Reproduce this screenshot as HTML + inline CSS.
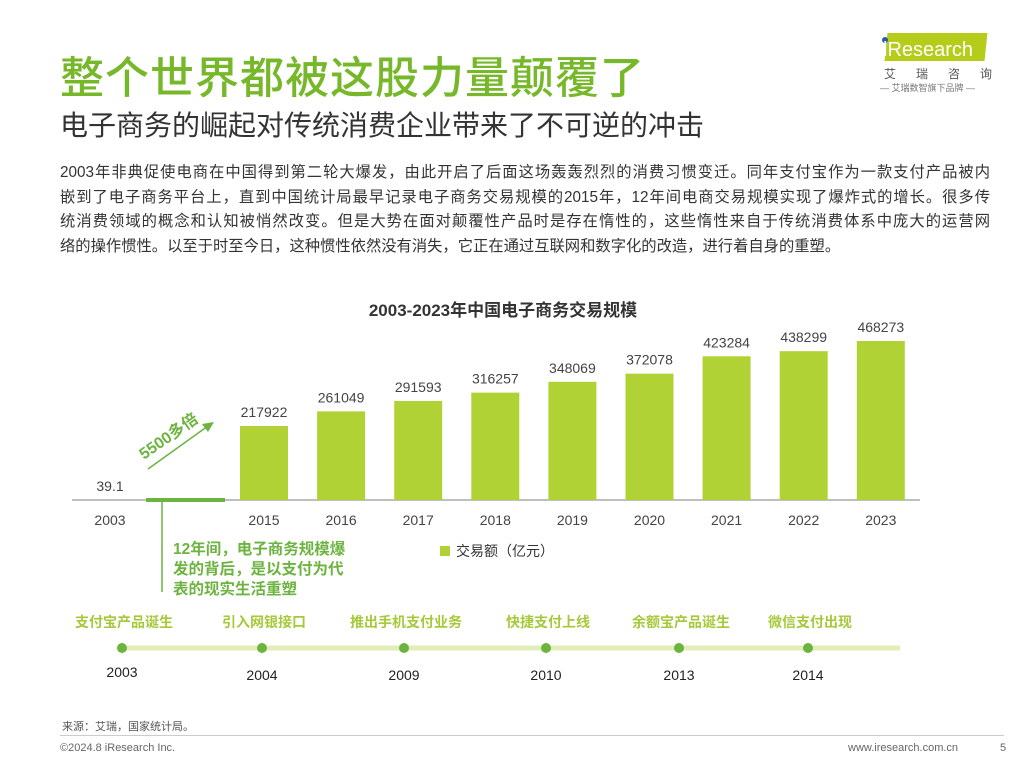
<!DOCTYPE html>
<html><head><meta charset="utf-8"><style>
body{margin:0;width:1024px;height:768px;background:#fff;font-family:"Liberation Sans","Noto Sans CJK SC",sans-serif;position:relative;overflow:hidden}
.a{position:absolute;white-space:nowrap}
.pl{text-align:justify;text-align-last:justify;height:24.5px}
</style></head><body>
<div class="a" style="left:60px;top:42px;font-size:44px;color:#76b82a;font-weight:500;letter-spacing:1px">整个世界都被这股力量颠覆了</div>
<div class="a" style="left:60px;top:104px;font-size:28px;color:#333">电子商务的崛起对传统消费企业带来了不可逆的冲击</div>
<div class="a" style="left:880px;top:33px;width:110px;height:60px">
<div style="position:absolute;left:6px;top:0;width:100px;height:28px;background:#b5cd1a;transform:skewX(-6deg)"></div>
<div style="position:absolute;left:2px;top:4px;width:6px;height:6px;border-radius:3px;background:#2a5aa8"></div>
<div style="position:absolute;left:3px;top:6px;font-size:20px;color:#fff">iResearch</div>
<div style="position:absolute;left:4px;top:32px;font-size:12px;color:#555;letter-spacing:20px">艾瑞咨询</div>
<div style="position:absolute;left:0;top:48px;font-size:9px;color:#777">— 艾瑞数智旗下品牌 —</div></div>
<div class="a" style="left:60px;top:161px;width:930px;white-space:nowrap;font-size:15.3px;line-height:24.5px;color:#333">
<div class="pl">2003年非典促使电商在中国得到第二轮大爆发，由此开启了后面这场轰轰烈烈的消费习惯变迁。同年支付宝作为一款支付产品被内</div>
<div class="pl">嵌到了电子商务平台上，直到中国统计局最早记录电子商务交易规模的2015年，12年间电商交易规模实现了爆炸式的增长。很多传</div>
<div class="pl">统消费领域的概念和认知被悄然改变。但是大势在面对颠覆性产品时是存在惰性的，这些惰性来自于传统消费体系中庞大的运营网</div>
<div>络的操作惯性。以至于时至今日，这种惯性依然没有消失，它正在通过互联网和数字化的改造，进行着自身的重塑。</div>
</div>
<svg id="chart" class="a" style="left:0;top:0" width="1024" height="768">
<text x="503" y="316" text-anchor="middle" font-size="17" font-weight="bold" fill="#333">2003-2023年中国电子商务交易规模</text>
<line x1="72" y1="500" x2="920" y2="500" stroke="#aaa" stroke-width="1.5"/>
<line x1="146" y1="500" x2="225" y2="500" stroke="#6cb33f" stroke-width="4"/>
<line x1="162" y1="500" x2="162" y2="592" stroke="#6cb33f" stroke-width="1.5"/>
<line x1="148" y1="469" x2="208" y2="426" stroke="#6cb33f" stroke-width="1.5"/>
<polygon points="214,422 202,424 208,432" fill="#6cb33f"/>
<text x="0" y="0" transform="translate(144,460) rotate(-35)" font-size="16" font-weight="bold" fill="#6cb33f">5500多倍</text>
<g id="bars"></g>
<rect x="440" y="546" width="10" height="10" fill="#b1d235"/>
<text x="456" y="556" font-size="14" fill="#333">交易额（亿元）</text>
</svg>
<div class="a" style="left:173px;top:540px;font-size:15.5px;line-height:20px;font-weight:bold;color:#6cb33f">12年间，电子商务规模爆<br>发的背后，是以支付为代<br>表的现实生活重塑</div>
<svg class="a" style="left:0;top:600px" width="1024" height="90">
<line x1="122" y1="48" x2="900" y2="48" stroke="#e2eeb8" stroke-width="5"/>
<g id="tl"></g></svg>
<div class="a" style="left:62px;top:718px;font-size:11px;color:#555">来源：艾瑞，国家统计局。</div>
<div class="a" style="left:60px;top:735px;width:944px;border-top:1px solid #ccc"></div>
<div class="a" style="left:60px;top:742px;font-size:11px;color:#666">©2024.8 iResearch Inc.</div>
<div class="a" style="left:848px;top:742px;font-size:11px;color:#666">www.iresearch.com.cn</div>
<div class="a" style="left:1000px;top:742px;font-size:11px;color:#666">5</div>
<script>
const years=["2003","2015","2016","2017","2018","2019","2020","2021","2022","2023"];
const values=[39.1,217922,261049,291593,316257,348069,372078,423284,438299,468273];
const labels=["39.1","217922","261049","291593","316257","348069","372078","423284","438299","468273"];
const tlEvents=["支付宝产品诞生","引入网银接口","推出手机支付业务","快捷支付上线","余额宝产品诞生","微信支付出现"];
const tlYears=["2003","2004","2009","2010","2013","2014"];
const NS="http://www.w3.org/2000/svg";
const base=500,maxV=468273,maxH=159;
const yS=v=>base-v/maxV*maxH;
const xC=i=>i===0?110:264+(i-1)*77.1;
const g=document.getElementById('bars');
function mk(t,a,p){const e=document.createElementNS(NS,t);for(const k in a)e.setAttribute(k,a[k]);p.appendChild(e);return e;}
years.forEach((y,i)=>{
 const top=yS(values[i]);
 if(i>0){const r=mk('rect',{x:xC(i)-24,y:top,width:48,height:base-top,fill:'#b1d235'},g);
 
 }
 const t=mk('text',{x:xC(i),y:top-9,'text-anchor':'middle','font-size':14,fill:'#444'},g);t.textContent=labels[i];
 
 
 const xl=mk('text',{x:xC(i),y:525,'text-anchor':'middle','font-size':14,fill:'#444'},g);xl.textContent=y;
 
 
});
const tl=document.getElementById('tl');
const tx=[122,262,404,546,679,808];
tlEvents.forEach((ev,i)=>{
 const c=mk('circle',{cx:tx[i],cy:48,r:5,fill:'#6cb33f'},tl);
 
 
 const a=mk('text',{x:tx[i]+2,y:27,'text-anchor':'middle','font-size':14,'font-weight':'bold',fill:'#a6c93a'},tl);a.textContent=ev;
 
 
 const b=mk('text',{x:tx[i],y:i===0?77:80,'text-anchor':'middle','font-size':14,fill:'#222'},tl);b.textContent=tlYears[i];
 
 
});
</script>
</body></html>
